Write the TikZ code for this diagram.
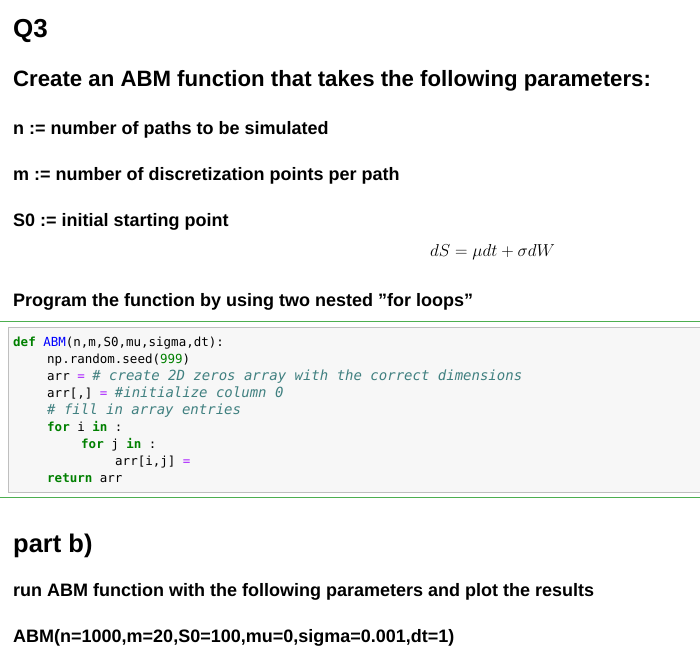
\documentclass[tikz,border=0pt]{standalone}
\usepackage{fontspec}
\setmainfont{Liberation Sans}
\setmonofont{DejaVu Sans Mono}
\usepackage{xcolor}
\definecolor{kwgreen}{HTML}{008000}
\definecolor{cmteal}{HTML}{408080}
\definecolor{fnblue}{HTML}{0000FF}
\definecolor{oppurple}{HTML}{AA22FF}
\definecolor{cellgreen}{HTML}{4CAF50}
\tikzset{
  txt/.style={anchor=base west, inner sep=0pt},
  hd/.style={txt, font=\fontsize{22.2}{26}\selectfont\bfseries},
  par/.style={txt, font=\fontsize{18}{21}\selectfont\bfseries},
  code/.style={txt, font=\fontsize{12.5}{15}\ttfamily},
}
\newcommand{\kw}[1]{\textcolor{kwgreen}{\bfseries #1}}
\newcommand{\cm}[1]{\textcolor{cmteal}{\fontsize{14}{15}\selectfont\itshape #1}}
\newcommand{\op}[1]{\textcolor{oppurple}{#1}}
\newcommand{\ind}[1]{\hspace*{#1pt}}
\begin{document}
\begin{tikzpicture}[x=1pt,y=-1pt]
\useasboundingbox (0,0) rectangle (700,654);
\node[txt, font=\fontsize{26}{30}\selectfont\bfseries] (q3) at (13,37) {Q3};
\node[hd] (create) at (13,86) {Create an ABM function that takes the following parameters:};
\node[par] (n) at (13,134) {n := number of paths to be simulated};
\node[par] (m) at (13,180) {m := number of discretization points per path};
\node[par] (s0) at (13,226) {S0 := initial starting point};
\node[txt, font=\fontsize{18.5}{20}\selectfont] (sde) at (430,256) {$dS = \mu dt + \sigma dW$};
\node[par] (prog) at (13,306) {Program the function by using two nested \symbol{34}for loops\symbol{34}};

% code cell
\draw[cellgreen] (0,321) -- (700,321);
\draw[draw=black!25, fill=black!3] (8,327) rectangle (701,492);
\draw[cellgreen] (0,497) -- (700,497);
\node[code] (c1) at (13,346) {\kw{def} \textcolor{fnblue}{ABM}(n,m,S0,mu,sigma,dt):};
\node[code] (c2) at (13,363) {\ind{34}np.random.seed(\textcolor{kwgreen}{999})};
\node[code] (c3) at (13,380) {\ind{34}arr \op{=} \cm{\# create 2D zeros array with the correct dimensions}};
\node[code] (c4) at (13,397) {\ind{34}arr[,] \op{=} \cm{\#initialize column 0}};
\node[code] (c5) at (13,414) {\ind{34}\cm{\# fill in array entries}};
\node[code] (c6) at (13,431) {\ind{34}\kw{for} i \kw{in} :};
\node[code] (c7) at (13,448) {\ind{68}\kw{for} j \kw{in} :};
\node[code] (c8) at (13,465) {\ind{102}arr[i,j] \op{=}};
\node[code] (c9) at (13,482) {\ind{34}\kw{return} arr};

\node[txt, font=\fontsize{25.5}{30}\selectfont\bfseries] (partb) at (13,552) {part b)};
\node[par] (run) at (13,596) {run ABM function with the following parameters and plot the results};
\node[par] (call) at (13,642) {ABM(n=1000,m=20,S0=100,mu=0,sigma=0.001,dt=1)};
\end{tikzpicture}
\end{document}
